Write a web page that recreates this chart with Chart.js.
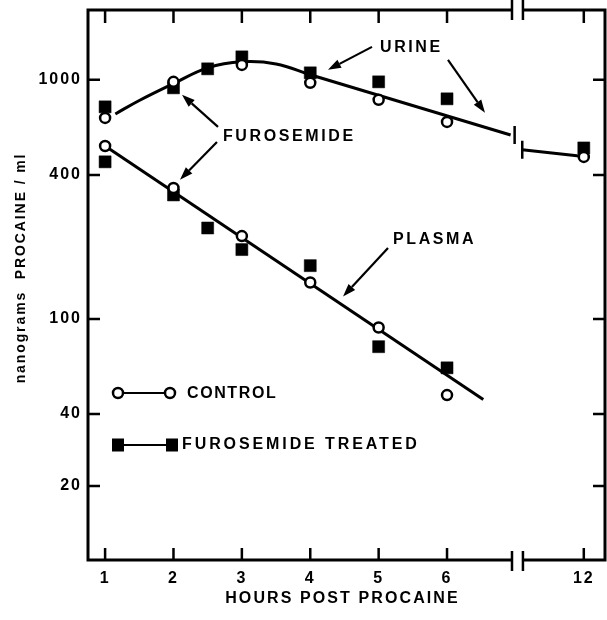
<!DOCTYPE html>
<html><head><meta charset="utf-8">
<script src="https://cdn.jsdelivr.net/npm/chart.js@4/dist/chart.umd.min.js"></script>
<style>html,body{margin:0;padding:0;background:#fff}canvas{display:block}</style>
</head><body>
<canvas id="c" width="607" height="620"></canvas>
<script>
// ---- data (hours post procaine, ng procaine / ml) ----
const hours = [1, 2, 3, 4, 5, 6, 12];
const controlUrine = [693, 981, 1155, 972, 825, 667, 476];
const furoUrineHours = [1, 2, 2.5, 3, 4, 5, 6, 12];
const furoUrine = [771, 926, 1112, 1248, 1070, 981, 833, 519];
const plasmaHours = [1, 2, 3, 4, 5, 6];
const controlPlasma = [529, 353, 222, 142, 92, 48];
const furoPlasmaHours = [1, 2, 2.5, 3, 4, 5, 6];
const furoPlasma = [454, 330, 240, 195, 167, 76.5, 62.4];
// fitted curves
const urineCurveHours = [1.15, 1.5, 2, 2.5, 3, 3.5, 4];
const urineCurve = [720, 820, 965, 1123, 1190, 1166, 1050];
const urineLineHours = [4, 6.93];
const urineLine = [1050, 588];
const urineLateHours = [11.1, 12];
const urineLate = [510, 478];
const plasmaFitHours = [1, 6.53];
const plasmaFit = [529, 46];
// axes
const xTickHours = [1, 2, 3, 4, 5, 6, 12];
const yTicks = [20, 40, 100, 400, 1000];
const breakHours = [6.95, 11.11];
// annotations
const noteTexts = ['URINE', 'FUROSEMIDE', 'PLASMA'];
const noteHours = [5.02, 2.724, 5.21];
const noteValues = [1368, 580, 215];
const arrowFromHours = [4.903, 6.014, 2.651, 2.636, 5.137];
const arrowFromValues = [1374, 1212, 636, 550, 198];
const arrowToHours = [4.259, 6.555, 2.124, 2.095, 4.479];
const arrowToValues = [1101, 728, 866, 382, 124];
const legendLabels = ['CONTROL', 'FUROSEMIDE TREATED'];

// broken x axis: hours after the break are shifted left by 4 units
const xPos = h => (h < 9 ? h : h - 4);
const pts = (xs, ys) => xs.map((h, i) => ({x: xPos(h), y: ys[i]}));

const FONT = '"Liberation Sans", Arial, sans-serif';
Chart.defaults.font.family = FONT;
Chart.defaults.color = '#000';

const lineStyle = {showLine: true, pointRadius: 0, borderColor: '#000', borderWidth: 3, order: 10, tension: 0};
const circleStyle = {showLine: false, pointStyle: 'circle', pointRadius: 5, pointBorderWidth: 2.5,
  pointBackgroundColor: '#fff', pointBorderColor: '#000', order: 0};
const squareStyle = {showLine: false, pointStyle: 'rect', pointRadius: 8.5, pointBorderWidth: 0.5,
  pointBackgroundColor: '#000', pointBorderColor: '#000', order: 1};

function txt(ctx, s, x, y, size, spacing, align) {
  ctx.save();
  ctx.font = 'bold ' + size + 'px ' + FONT;
  ctx.letterSpacing = spacing + 'px';
  ctx.fillStyle = '#000';
  ctx.textAlign = align || 'left';
  ctx.textBaseline = 'middle';
  ctx.fillText(s, x, y);
  ctx.restore();
}

const decor = {
  id: 'decor',
  beforeDraw(chart) { chart.ctx.letterSpacing = '2px'; },
  afterDraw(chart) {
    const ctx = chart.ctx;
    const {left, right, top, bottom} = chart.chartArea;
    const xs = chart.scales.x, ys = chart.scales.y;
    const b1 = xs.getPixelForValue(xPos(breakHours[0]));
    const b2 = xs.getPixelForValue(xPos(breakHours[1]));
    ctx.save();
    ctx.strokeStyle = '#000';
    ctx.lineWidth = 3;
    ctx.beginPath();
    ctx.moveTo(left, top - 1.5); ctx.lineTo(left, bottom + 1.5);
    ctx.moveTo(left - 1.5, bottom); ctx.lineTo(b1, bottom);
    ctx.moveTo(b2, bottom); ctx.lineTo(right, bottom);
    ctx.moveTo(left - 1.5, top); ctx.lineTo(b1, top);
    ctx.moveTo(b2, top); ctx.lineTo(right, top);
    ctx.moveTo(right, top - 1.5); ctx.lineTo(right, bottom + 1.5);
    ctx.stroke();
    // axis break bars
    ctx.lineWidth = 2.5;
    ctx.beginPath();
    [b1, b2].forEach(b => {
      ctx.moveTo(b, top - 10); ctx.lineTo(b, top + 10);
      ctx.moveTo(b, bottom - 9); ctx.lineTo(b, bottom + 11);
    });
    // inward ticks
    xs.ticks.forEach(t => {
      const p = xs.getPixelForValue(t.value);
      ctx.moveTo(p, top); ctx.lineTo(p, top + 13);
      ctx.moveTo(p, bottom); ctx.lineTo(p, bottom - 12);
    });
    ys.ticks.forEach(t => {
      const p = ys.getPixelForValue(t.value);
      ctx.moveTo(left, p); ctx.lineTo(left + 12, p);
      ctx.moveTo(right, p); ctx.lineTo(right - 12, p);
    });
    ctx.stroke();
    // break bars on the urine line
    const endEl = chart.getDatasetMeta(5).data[1];
    const startEl = chart.getDatasetMeta(6).data[0];
    ctx.beginPath();
    ctx.moveTo(endEl.x + 4, endEl.y - 9); ctx.lineTo(endEl.x + 4, endEl.y + 9);
    ctx.moveTo(startEl.x, startEl.y - 9); ctx.lineTo(startEl.x, startEl.y + 9);
    ctx.stroke();
    // arrows
    ctx.lineWidth = 2.2;
    ctx.fillStyle = '#000';
    arrowFromHours.forEach((h, i) => {
      const x1 = xs.getPixelForValue(xPos(h)), y1 = ys.getPixelForValue(arrowFromValues[i]);
      const x2 = xs.getPixelForValue(xPos(arrowToHours[i])), y2 = ys.getPixelForValue(arrowToValues[i]);
      const a = Math.atan2(y2 - y1, x2 - x1);
      const L = 13, W = 4.5;
      const bx = x2 - L * Math.cos(a), by = y2 - L * Math.sin(a);
      ctx.beginPath();
      ctx.moveTo(x1, y1); ctx.lineTo(bx, by); ctx.stroke();
      ctx.beginPath();
      ctx.moveTo(x2, y2);
      ctx.lineTo(bx + W * Math.sin(a), by - W * Math.cos(a));
      ctx.lineTo(bx - W * Math.sin(a), by + W * Math.cos(a));
      ctx.closePath(); ctx.fill();
    });
    ctx.restore();
    // annotation texts
    noteTexts.forEach((s, i) => {
      txt(ctx, s, xs.getPixelForValue(noteHours[i]), ys.getPixelForValue(noteValues[i]), 16, 2.6, 'left');
    });
    // legend
    const lx = left + 30, ly1 = top + 383, ly2 = top + 435;
    ctx.save();
    ctx.strokeStyle = '#000'; ctx.lineWidth = 2;
    ctx.beginPath();
    ctx.moveTo(lx, ly1); ctx.lineTo(lx + 52, ly1);
    ctx.moveTo(lx, ly2); ctx.lineTo(lx + 54, ly2);
    ctx.stroke();
    ctx.lineWidth = 2.5; ctx.fillStyle = '#fff';
    [lx, lx + 52].forEach(x => { ctx.beginPath(); ctx.arc(x, ly1, 5, 0, Math.PI * 2); ctx.fill(); ctx.stroke(); });
    ctx.fillStyle = '#000';
    [lx, lx + 54].forEach(x => { ctx.fillRect(x - 6, ly2 - 6.5, 12, 13); });
    ctx.restore();
    txt(ctx, legendLabels[0], lx + 69, ly1 + 0.5, 16, 1.6, 'left');
    txt(ctx, legendLabels[1], lx + 64, ly2, 16, 2.9, 'left');
    // axis titles
    txt(ctx, 'HOURS POST PROCAINE', (left + right) / 2 - 4, 598.5, 16, 2.1, 'center');
    ctx.save();
    ctx.translate(21, 268);
    ctx.rotate(-Math.PI / 2);
    txt(ctx, 'nanograms  PROCAINE / ml', 0, 0, 14, 1.9, 'center');
    ctx.restore();
  }
};

new Chart(document.getElementById('c'), {
  type: 'scatter',
  data: {
    datasets: [
      Object.assign({label: 'Control urine', data: pts(hours, controlUrine)}, circleStyle),
      Object.assign({label: 'Furosemide urine', data: pts(furoUrineHours, furoUrine)}, squareStyle),
      Object.assign({label: 'Control plasma', data: pts(plasmaHours, controlPlasma)}, circleStyle),
      Object.assign({label: 'Furosemide plasma', data: pts(furoPlasmaHours, furoPlasma)}, squareStyle),
      Object.assign({label: 'Urine fit curve', data: pts(urineCurveHours, urineCurve)}, lineStyle, {tension: 0.4}),
      Object.assign({label: 'Urine fit line', data: pts(urineLineHours, urineLine)}, lineStyle),
      Object.assign({label: 'Urine late', data: pts(urineLateHours, urineLate)}, lineStyle),
      Object.assign({label: 'Plasma fit', data: pts(plasmaFitHours, plasmaFit)}, lineStyle)
    ]
  },
  options: {
    responsive: false,
    animation: false,
    devicePixelRatio: 1,
    layout: {autoPadding: false, padding: {top: 10, right: 2, left: 0, bottom: 0}},
    plugins: {legend: {display: false}, tooltip: {enabled: false}},
    scales: {
      x: {
        type: 'linear', min: 0.75, max: 8.31,
        grid: {display: false, drawTicks: true, tickLength: 9}, border: {display: false},
        afterBuildTicks: s => { s.ticks = xTickHours.map(h => ({value: xPos(h)})); },
        afterFit: s => { s.height = 60; s.paddingLeft = 0; s.paddingRight = 0; },
        ticks: {
          autoSkip: false, padding: 0, maxRotation: 0,
          font: {size: 16, weight: 'bold'}, color: '#000',
          callback: v => String(xTickHours[xTickHours.map(xPos).indexOf(v)])
        }
      },
      y: {
        type: 'logarithmic', min: 9.8, max: 1960,
        grid: {display: false, drawTicks: false}, border: {display: false},
        afterBuildTicks: s => { s.ticks = yTicks.map(v => ({value: v})); },
        afterFit: s => { s.width = 88; s.paddingTop = 0; s.paddingBottom = 0; },
        ticks: {
          autoSkip: false, padding: 6,
          font: {size: 16, weight: 'bold'}, color: '#000',
          callback: v => String(v)
        }
      }
    }
  },
  plugins: [decor]
});
</script>
</body></html>
